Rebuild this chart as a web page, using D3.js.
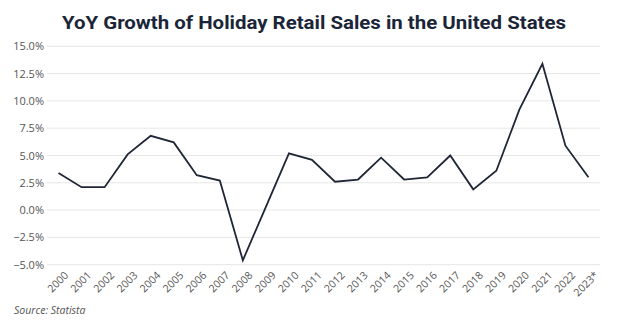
<!DOCTYPE html>
<html><head><meta charset="utf-8">
<script src="https://cdn.jsdelivr.net/npm/d3@7"></script>
<style>body{margin:0;background:#fff}svg{display:block}</style>
</head><body>
<script>
const years = ["2000","2001","2002","2003","2004","2005","2006","2007","2008","2009","2010","2011","2012","2013","2014","2015","2016","2017","2018","2019","2020","2021","2022","2023*"];
const growth = [3.4,2.1,2.1,5.1,6.8,6.2,3.2,2.7,-4.6,0.3,5.2,4.6,2.6,2.8,4.8,2.8,3.0,5.0,1.9,3.6,9.2,13.4,5.9,3.0];
const yTicks = [-5,-2.5,0,2.5,5,7.5,10,12.5,15];
const title = "YoY Growth of Holiday Retail Sales in the United States";
const source = "Source: Statista";

const W=624,H=326;
const svg=d3.select("body").append("svg").attr("width",W).attr("height",H);
const x=d3.scalePoint().domain(years).range([47,600]).padding(0.5);
const y=d3.scaleLinear().domain([-5,15]).range([264.7,46.3]);

svg.append("text").attr("x",314).attr("y",29).attr("text-anchor","middle")
  .attr("font-family","Roboto").attr("font-weight","bold").attr("font-size",19)
  .attr("fill","#1b2538").attr("textLength",504).attr("lengthAdjust","spacingAndGlyphs").text(title);

const g=svg.append("g");
g.selectAll("line.grid").data(yTicks).join("line").attr("class","grid")
  .attr("x1",47).attr("x2",600).attr("y1",d=>y(d)).attr("y2",d=>y(d))
  .attr("stroke","#e6e6e6").attr("stroke-width",1);

const yAxis=svg.append("g").attr("transform","translate(44,0)")
  .call(d3.axisLeft(y).tickValues(yTicks).tickSize(0).tickPadding(0).tickFormat(d=>d3.format(".1f")(d)+"%"));
yAxis.select(".domain").remove();
yAxis.selectAll("text").attr("font-family","Open Sans").attr("font-size",11).attr("fill","#555");

const xAxis=svg.append("g").attr("transform","translate(0,266)")
  .call(d3.axisBottom(x).tickSize(0).tickPadding(0));
xAxis.select(".domain").remove();
xAxis.selectAll("text").attr("font-family","Open Sans").attr("font-size",10.5).attr("fill","#555")
  .attr("text-anchor","end").attr("dy",0).attr("y",0)
  .attr("transform","translate(10,10) rotate(-45)");

svg.append("path").datum(growth.map((v,i)=>[years[i],v]))
  .attr("fill","none").attr("stroke","#1f2636").attr("stroke-width",1.8).attr("stroke-linejoin","miter")
  .attr("d",d3.line().x(d=>x(d[0])).y(d=>y(d[1])));

svg.append("text").attr("x",14).attr("y",314).attr("font-family","Open Sans").attr("font-style","italic")
  .attr("font-size",10.5).attr("fill","#555").text(source);
</script>
</body></html>
